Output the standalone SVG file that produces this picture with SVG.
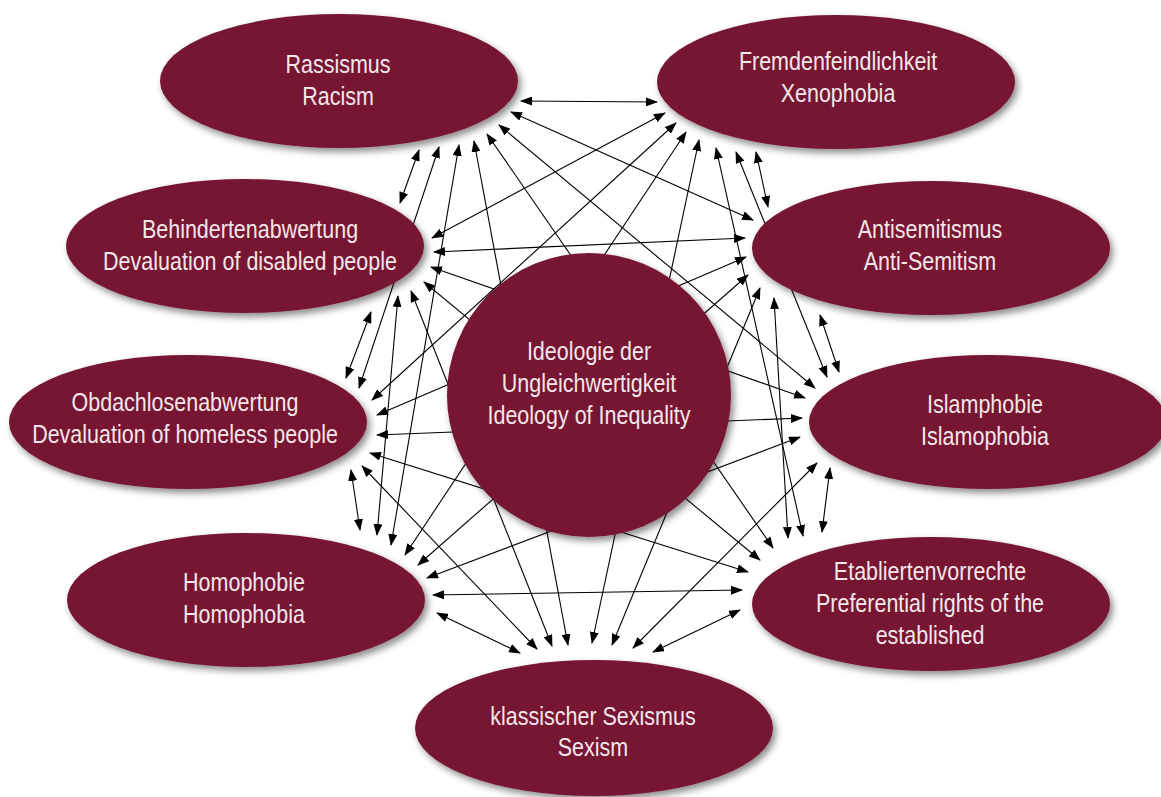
<svg xmlns="http://www.w3.org/2000/svg" width="1161" height="797" viewBox="0 0 1161 797">
<style>
.n{fill:#771733;filter:url(#sh)}
.t{font-family:"Liberation Sans",Arial,sans-serif;font-size:25px;fill:#f3e6ea;text-anchor:middle}
.c line{stroke:#000;stroke-width:1.1;marker-start:url(#ah);marker-end:url(#ah)}
</style>
<defs>
<marker id="ah" viewBox="0 0 12 9" refX="11" refY="4.5" markerWidth="12" markerHeight="9" markerUnits="userSpaceOnUse" orient="auto-start-reverse"><path d="M0,0 L12,4.5 L0,9 z" fill="#000"/></marker>
<filter id="sh" x="-20%" y="-20%" width="140%" height="150%"><feDropShadow dx="3" dy="4" stdDeviation="3.5" flood-color="#000" flood-opacity="0.45"/></filter>
</defs>
<rect width="1161" height="797" fill="#fff"/>
<g id="connectors" class="c">
<line x1="521" y1="101" x2="657" y2="102"/>
<line x1="511" y1="112" x2="753" y2="220"/>
<line x1="499" y1="125" x2="815" y2="388"/>
<line x1="487" y1="134" x2="773" y2="548"/>
<line x1="474" y1="141" x2="568" y2="645"/>
<line x1="459" y1="145" x2="391" y2="545"/>
<line x1="439" y1="147" x2="359" y2="388"/>
<line x1="419" y1="150" x2="400" y2="203"/>
<line x1="665" y1="113" x2="432" y2="238"/>
<line x1="676" y1="123" x2="372" y2="400"/>
<line x1="686" y1="132" x2="405" y2="555"/>
<line x1="699" y1="140" x2="592" y2="643"/>
<line x1="716" y1="148" x2="803" y2="536"/>
<line x1="736" y1="152" x2="827" y2="377"/>
<line x1="756" y1="152" x2="768" y2="207"/>
<line x1="434" y1="252" x2="745" y2="238"/>
<line x1="431" y1="267" x2="805" y2="398"/>
<line x1="424" y1="282" x2="760" y2="560"/>
<line x1="411" y1="291" x2="552" y2="646"/>
<line x1="398" y1="296" x2="377" y2="535"/>
<line x1="371" y1="312" x2="346" y2="378"/>
<line x1="746" y1="257" x2="377" y2="415"/>
<line x1="748" y1="275" x2="418" y2="565"/>
<line x1="760" y1="288" x2="612" y2="645"/>
<line x1="774" y1="298" x2="788" y2="538"/>
<line x1="820" y1="315" x2="839" y2="372"/>
<line x1="377" y1="435" x2="802" y2="418"/>
<line x1="370" y1="453" x2="748" y2="572"/>
<line x1="362" y1="466" x2="537" y2="649"/>
<line x1="351" y1="470" x2="360" y2="530"/>
<line x1="800" y1="437" x2="427" y2="578"/>
<line x1="817" y1="463" x2="633" y2="648"/>
<line x1="830" y1="468" x2="822" y2="532"/>
<line x1="433" y1="595" x2="742" y2="590"/>
<line x1="437" y1="613" x2="520" y2="653"/>
<line x1="653" y1="652" x2="740" y2="610"/>
</g>
<g id="rassismus"><ellipse class="n" cx="339" cy="81" rx="179" ry="67"/><g transform="translate(338 0) scale(0.86 1)"><text class="t" x="0" y="73">Rassismus</text><text class="t" x="0" y="105">Racism</text></g></g>
<g id="fremdenfeindlichkeit"><ellipse class="n" cx="836" cy="82" rx="179" ry="67"/><g transform="translate(838 0) scale(0.86 1)"><text class="t" x="0" y="70">Fremdenfeindlichkeit</text><text class="t" x="0" y="102">Xenophobia</text></g></g>
<g id="behindertenabwertung"><ellipse class="n" cx="245" cy="246" rx="179" ry="67"/><g transform="translate(250 0) scale(0.86 1)"><text class="t" x="0" y="238">Behindertenabwertung</text><text class="t" x="0" y="270">Devaluation of disabled people</text></g></g>
<g id="antisemitismus"><ellipse class="n" cx="931" cy="248" rx="179" ry="67"/><g transform="translate(930 0) scale(0.86 1)"><text class="t" x="0" y="238">Antisemitismus</text><text class="t" x="0" y="270">Anti-Semitism</text></g></g>
<g id="obdachlosenabwertung"><ellipse class="n" cx="188" cy="422" rx="179" ry="67"/><g transform="translate(185 0) scale(0.86 1)"><text class="t" x="0" y="411">Obdachlosenabwertung</text><text class="t" x="0" y="443">Devaluation of homeless people</text></g></g>
<g id="islamphobie"><ellipse class="n" cx="988" cy="422" rx="179" ry="67"/><g transform="translate(985 0) scale(0.86 1)"><text class="t" x="0" y="413">Islamphobie</text><text class="t" x="0" y="445">Islamophobia</text></g></g>
<g id="homophobie"><ellipse class="n" cx="246" cy="600" rx="179" ry="67"/><g transform="translate(244 0) scale(0.86 1)"><text class="t" x="0" y="591">Homophobie</text><text class="t" x="0" y="623">Homophobia</text></g></g>
<g id="etabliertenvorrechte"><ellipse class="n" cx="931" cy="604" rx="179" ry="67"/><g transform="translate(930 0) scale(0.86 1)"><text class="t" x="0" y="580">Etabliertenvorrechte</text><text class="t" x="0" y="612">Preferential rights of the</text><text class="t" x="0" y="644">established</text></g></g>
<g id="sexismus"><ellipse class="n" cx="594" cy="728" rx="179" ry="68"/><g transform="translate(593 0) scale(0.86 1)"><text class="t" x="0" y="725">klassischer Sexismus</text><text class="t" x="0" y="756">Sexism</text></g></g>
<g id="ideologie"><circle class="n" cx="589" cy="395" r="142"/><g transform="translate(589 0) scale(0.86 1)"><text class="t" x="0" y="360">Ideologie der</text><text class="t" x="0" y="392">Ungleichwertigkeit</text><text class="t" x="0" y="424">Ideology of Inequality</text></g></g>
</svg>
